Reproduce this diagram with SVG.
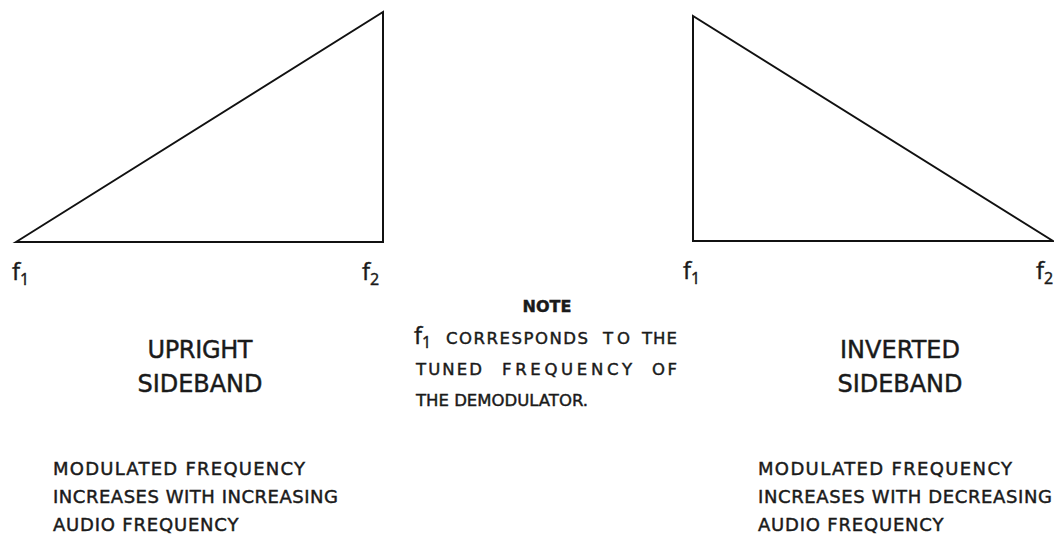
<svg xmlns="http://www.w3.org/2000/svg" width="1054" height="538" viewBox="0 0 1054 538">
<style>
.ln{fill:none;stroke:#111;stroke-width:2;stroke-linejoin:miter}
text{font-family:"DejaVu Sans","Open Sans",sans-serif;fill:#1a1a1a;stroke:#1a1a1a;stroke-width:0.45}
.f{font-size:24px;font-family:"Open Sans","DejaVu Sans",sans-serif}
.sub{font-size:16px}
.big{font-size:24px}
.sm{font-size:18px}
.note{font-size:16.5px}
</style>
<rect width="1054" height="538" fill="#fff"/>
<g id="connectors"/>
<g id="upright-triangle">
<polygon class="ln" points="16,242 383,12 383,242"/>
<text class="f" x="12" y="280">f<tspan class="sub" dy="5">1</tspan></text>
<text class="f" x="362" y="280">f<tspan class="sub" dy="5">2</tspan></text>
</g>
<g id="inverted-triangle">
<polygon class="ln" points="693,16 693,241 1053,241"/>
<text class="f" x="683" y="279">f<tspan class="sub" dy="5">1</tspan></text>
<text class="f" x="1036" y="279">f<tspan class="sub" dy="5">2</tspan></text>
</g>
<g id="upright-label">
<text class="big" x="200" y="358" text-anchor="middle" textLength="105">UPRIGHT</text>
<text class="big" x="200" y="392" text-anchor="middle" textLength="125">SIDEBAND</text>
</g>
<g id="inverted-label">
<text class="big" x="900" y="358" text-anchor="middle" textLength="120">INVERTED</text>
<text class="big" x="900" y="392" text-anchor="middle" textLength="125">SIDEBAND</text>
</g>
<g id="note">
<text x="547" y="312" text-anchor="middle" style="font-size:16px;font-weight:bold">NOTE</text>
<text class="f" x="414" y="344">f<tspan class="sub" dy="4">1</tspan></text>
<text class="note" x="446" y="344" textLength="142">CORRESPONDS</text>
<text class="note" x="603" y="344" textLength="27">TO</text>
<text class="note" x="642" y="344" textLength="35">THE</text>
<text class="note" x="416" y="375" textLength="66">TUNED</text>
<text class="note" x="502" y="375" textLength="130">FREQUENCY</text>
<text class="note" x="652" y="375" textLength="25">OF</text>
<text class="note" x="416" y="406">THE DEMODULATOR.</text>
</g>
<g id="upright-desc">
<text class="sm" x="53" y="475" textLength="252">MODULATED FREQUENCY</text>
<text class="sm" x="53" y="503" textLength="285">INCREASES WITH INCREASING</text>
<text class="sm" x="53" y="531" style="letter-spacing:0.8px">AUDIO FREQUENCY</text>
</g>
<g id="inverted-desc">
<text class="sm" x="758" y="475" textLength="254">MODULATED FREQUENCY</text>
<text class="sm" x="758" y="503" textLength="294">INCREASES WITH DECREASING</text>
<text class="sm" x="758" y="531" style="letter-spacing:0.8px">AUDIO FREQUENCY</text>
</g>
</svg>
